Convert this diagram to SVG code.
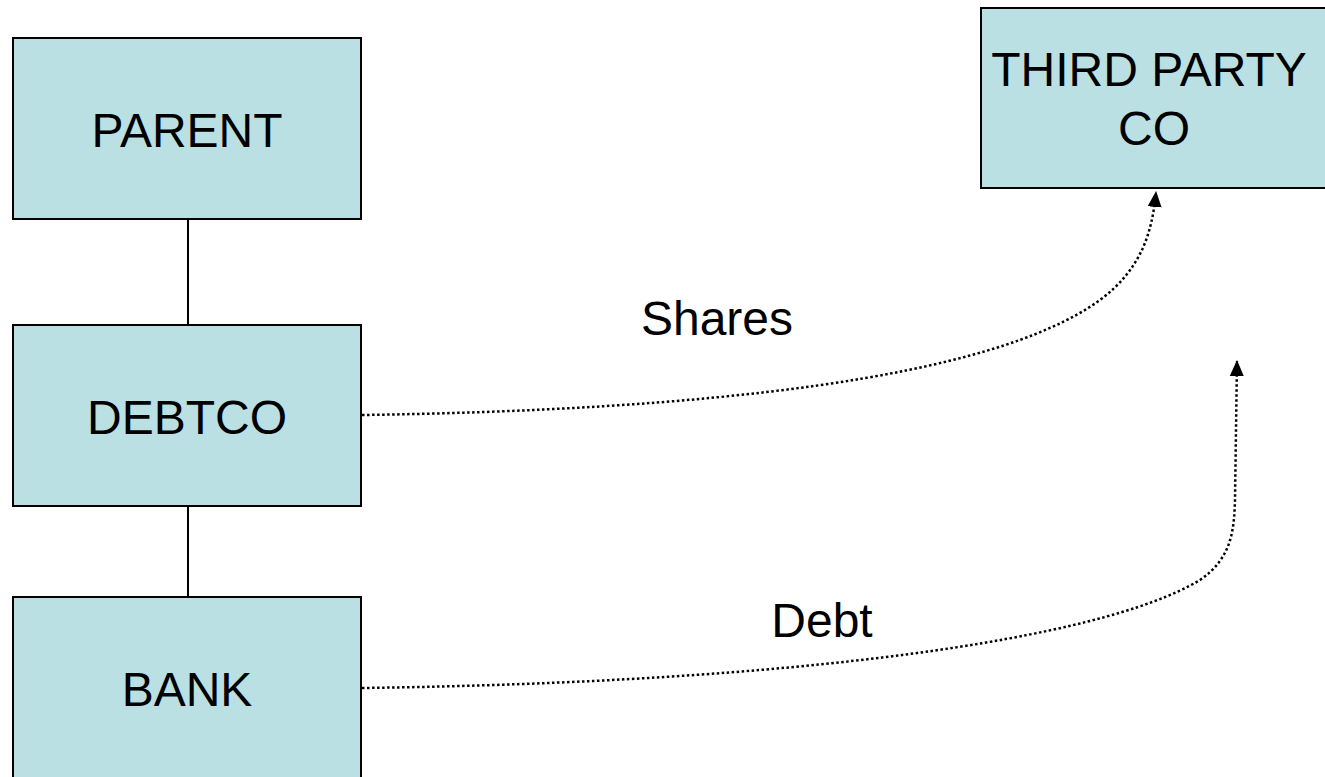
<svg xmlns="http://www.w3.org/2000/svg" width="1325" height="777" viewBox="0 0 1325 777">
  <style>
    .box { fill: #BBE0E3; stroke: #000; stroke-width: 2; }
    .lbl { font-family: "Liberation Sans", Arial, sans-serif; font-size: 48px; fill: #000; text-anchor: middle; }
    .link { fill: none; stroke: #000; stroke-width: 2; }
    .flow { fill: none; stroke: #000; stroke-width: 2.5; stroke-dasharray: 2.5 2.5; }
  </style>
  <defs>
    <marker id="tip" viewBox="0 0 16 16" refX="15" refY="8" markerWidth="16" markerHeight="16" orient="auto" markerUnits="userSpaceOnUse">
      <path d="M0,1 L16,8 L0,15 z" fill="#000"/>
    </marker>
  </defs>

  <rect width="1325" height="777" fill="#fff"/>

  <g id="connectors">
    <line class="link" x1="188" y1="219" x2="188" y2="325"/>
    <line class="link" x1="188" y1="506" x2="188" y2="597"/>
    <path class="flow" d="M362,415 C700,410 990,380 1100,300 C1140,270 1152,235 1156,192" marker-end="url(#tip)"/>
    <path class="flow" d="M362,688 C800,682 1100,640 1200,580 C1232,558 1234,530 1235,500 L1237,361" marker-end="url(#tip)"/>
    <text class="lbl" x="717" y="335">Shares</text>
    <text class="lbl" x="822" y="637">Debt</text>
  </g>

  <g id="parent">
    <rect class="box" x="13" y="38" width="348" height="181"/>
    <text class="lbl" x="187" y="147">PARENT</text>
  </g>
  <g id="debtco">
    <rect class="box" x="13" y="325" width="348" height="181"/>
    <text class="lbl" x="187" y="434">DEBTCO</text>
  </g>
  <g id="bank">
    <rect class="box" x="13" y="597" width="348" height="200"/>
    <text class="lbl" x="187" y="706">BANK</text>
  </g>
  <g id="third-party-co">
    <rect class="box" x="981" y="8" width="360" height="180"/>
    <text class="lbl" x="1149" y="86">THIRD PARTY</text>
    <text class="lbl" x="1154" y="145">CO</text>
  </g>
</svg>
